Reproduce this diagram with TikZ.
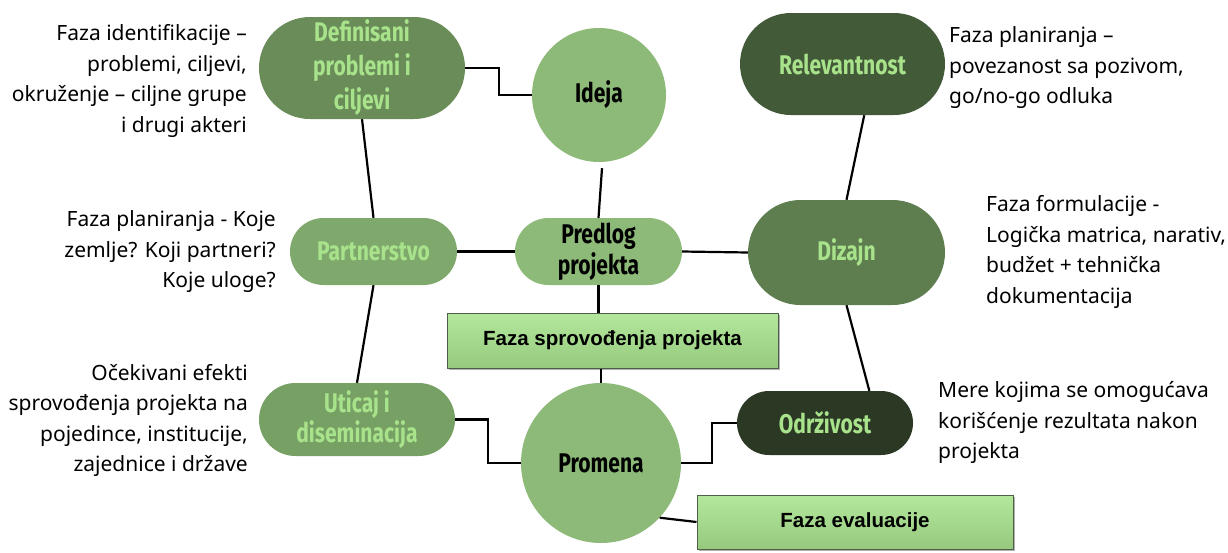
\documentclass[tikz,border=0pt]{standalone}
\usepackage{fontspec}
\setmainfont{Noto Sans}
\newfontfamily\pillfont[FakeStretch=0.78]{Fira Sans}
\newfontfamily\boxfont{Liberation Sans}
\usetikzlibrary{calc,shapes.misc,shadows}

\definecolor{cDef}{HTML}{698C58}
\definecolor{cMid}{HTML}{8DBA78}
\definecolor{cRel}{HTML}{435A39}
\definecolor{cPart}{HTML}{7FA86C}
\definecolor{cDiz}{HTML}{5E7E50}
\definecolor{cUtic}{HTML}{76A064}
\definecolor{cOdr}{HTML}{2A3824}
\definecolor{cTxt}{HTML}{A8E38C}
\definecolor{cBoxTop}{HTML}{B3E89C}
\definecolor{cBoxBot}{HTML}{96C97E}
\definecolor{cBoxLine}{HTML}{4F5E47}

\tikzset{
  conn/.style={draw=black, line width=2.2pt},
  pill/.style 2 args={rounded rectangle, draw=none, inner sep=0pt,
    minimum width=#1, minimum height=#2, align=center,
    font=\pillfont\bfseries\fontsize{27}{31}\selectfont, text=cTxt},
  orb/.style={circle, draw=none, fill=cMid, inner sep=0pt, minimum size=#1,
    font=\pillfont\bfseries\fontsize{27}{31}\selectfont, text=black},
  phasebox/.style 2 args={rectangle, draw=cBoxLine, line width=1pt,
    top color=cBoxTop, bottom color=cBoxBot, inner sep=0pt,
    minimum width=#1, minimum height=#2,
    drop shadow={shadow xshift=2pt, shadow yshift=-2pt, opacity=0.3, fill=black},
    font=\boxfont\bfseries\fontsize{20.5}{24}\selectfont},
  note/.style={inner sep=0pt, font=\fontsize{21}{30.5}\selectfont, text=black}
}

\begin{document}
\begin{tikzpicture}[x=1pt, y=-1pt]
\useasboundingbox (0,0) rectangle (1228,552);

% central column and surrounding stages
\node[pill={206}{102}, fill=cDef, font=\pillfont\bfseries\fontsize{27}{34}\selectfont]
  (def) at (362,68) {Definisani\\problemi i\\ciljevi};
\node[orb=134] (ideja) at (599,95) {Ideja};
\node[pill={205}{102}, fill=cRel] (rel) at (842.5,64) {Relevantnost};
\node[pill={167}{67}, fill=cPart] (part) at (373.5,251.5) {Partnerstvo};
\node[pill={167}{67}, fill=cMid, text=black] (pred) at (598.5,251.5) {Predlog\\projekta};
\node[pill={197}{105}, fill=cDiz] (diz) at (846.5,252.5) {Dizajn};
\node[phasebox={331}{55}] (sprov) at (612.5,340.5) {Faza sprovođenja projekta};
\node[pill={196}{73}, fill=cUtic, font=\pillfont\bfseries\fontsize{27}{30}\selectfont]
  (utic) at (357,419.5) {Uticaj i\\diseminacija};
\node[orb=160] (prom) at (601,463) {Promena};
\node[pill={176}{64}, fill=cOdr] (odr) at (825,423) {Održivost};
\node[phasebox={316}{54}] (eval) at (855,522) {Faza evaluacije};

% connectors
\draw[conn] (def.east) -- ++(34,0) |- (ideja.west);
\draw[conn] (def.south) -- (part.north);
\draw[conn] (part.south) -- (utic.north);
\draw[conn] (part.east) -- (pred.west);
\draw[conn] (pred.east) -- (diz.west);
\draw[conn] ([xshift=3pt,yshift=-6pt]ideja.south) -- (pred.north);
\draw[conn] (pred.south) -- (pred.south |- sprov.north);
\draw[conn] (prom.north |- sprov.south) -- (prom.north);
\draw[conn] (rel.-67) -- (diz.north);
\draw[conn] (diz.south) -- (odr.36);
\draw[conn] (utic.east) -- ++(33,0) |- (prom.west);
\draw[conn] (prom.east) -- ++(31,0) |- (odr.west);
\draw[conn] (prom.-43) -- (eval.west);

% side descriptions
\node[note, anchor=east, align=right] (n1) at (247,81)
  {Faza identifikacije –\\problemi, ciljevi,\\okruženje – ciljne grupe\\i drugi akteri};
\node[note, anchor=east, align=right] (n2) at (276,252)
  {Faza planiranja - Koje\\zemlje? Koji partneri?\\Koje uloge?};
\node[note, anchor=east, align=right] (n3) at (248,420.5)
  {Očekivani efekti\\sprovođenja projekta na\\pojedince, institucije,\\zajednice i države};
\node[note, anchor=west, align=left] (n4) at (949,68)
  {Faza planiranja –\\povezanost sa pozivom,\\go/no-go odluka};
\node[note, anchor=west, align=left] (n5) at (986,252)
  {Faza formulacije -\\Logička matrica, narativ,\\budžet + tehnička\\dokumentacija};
\node[note, anchor=west, align=left] (n6) at (938,422.5)
  {Mere kojima se omogućava\\korišćenje rezultata nakon\\projekta};
\end{tikzpicture}
\end{document}
